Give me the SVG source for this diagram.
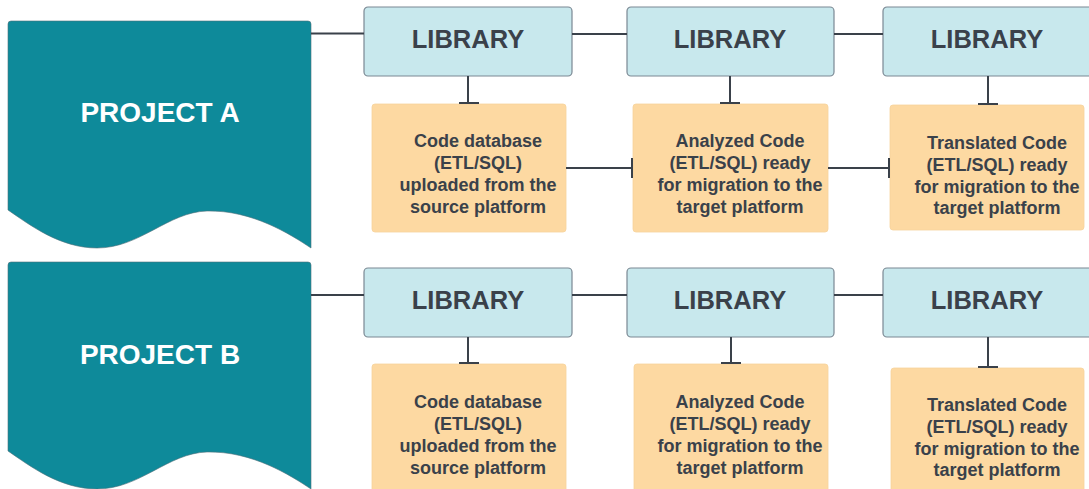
<svg xmlns="http://www.w3.org/2000/svg" width="1089" height="489" viewBox="0 0 1089 489">
<style>
.proj{fill:#0e8a9a;stroke:#4f6e78;stroke-width:0.6}
.ptxt{font-family:"Liberation Sans",Arial,sans-serif;font-weight:bold;font-size:28px;fill:#ffffff;text-anchor:middle}
.lib{fill:#c8e8ed;stroke:#7b8893;stroke-width:1.2}
.ltxt{font-family:"Liberation Sans",Arial,sans-serif;font-weight:bold;font-size:25.5px;fill:#3a414a;text-anchor:middle}
.out{fill:#fdd9a2;stroke:#f6d39c;stroke-width:0.8}
.otxt{font-family:"Liberation Sans",Arial,sans-serif;font-weight:bold;font-size:18px;fill:#3a414a;text-anchor:middle}
.con{stroke:#3a414a;stroke-width:2;fill:none}
</style>
<g id="projectA"><path class="proj" d="M8,24 Q8,21 11,21 L308,21 Q311,21 311,24 L311,248 C290,234 252,210 207,211 C168,212 140,248 97,248 C60,248 30,225 8,210 Z"/><text class="ptxt" x="160" y="122">PROJECT A</text></g>
<g id="projectB"><path class="proj" d="M8,265 Q8,262 11,262 L308,262 Q311,262 311,265 L311,489 C290,475 252,451 207,452 C168,453 140,489 97,489 C60,489 30,466 8,451 Z"/><text class="ptxt" x="160" y="364">PROJECT B</text></g>
<g id="libA1"><rect class="lib" x="364" y="7" width="208" height="69" rx="4"/><text class="ltxt" x="468" y="48">LIBRARY</text></g>
<g id="libA2"><rect class="lib" x="627" y="7" width="207" height="69" rx="4"/><text class="ltxt" x="730" y="48">LIBRARY</text></g>
<g id="libA3"><rect class="lib" x="883" y="7" width="215" height="69" rx="4"/><text class="ltxt" x="987" y="48">LIBRARY</text></g>
<g id="libB1"><rect class="lib" x="364" y="268" width="208" height="69" rx="4"/><text class="ltxt" x="468" y="309">LIBRARY</text></g>
<g id="libB2"><rect class="lib" x="627" y="268" width="207" height="69" rx="4"/><text class="ltxt" x="730" y="309">LIBRARY</text></g>
<g id="libB3"><rect class="lib" x="883" y="268" width="215" height="69" rx="4"/><text class="ltxt" x="987" y="309">LIBRARY</text></g>
<g id="outA1"><rect class="out" x="372" y="104" width="194" height="128" rx="3"/><text class="otxt" x="478"><tspan x="478" y="147">Code database</tspan><tspan x="478" y="169">(ETL/SQL)</tspan><tspan x="478" y="191">uploaded from the</tspan><tspan x="478" y="213">source platform</tspan></text></g>
<g id="outA2"><rect class="out" x="633" y="104" width="195" height="128" rx="3"/><text class="otxt" x="740"><tspan x="740" y="147">Analyzed Code</tspan><tspan x="740" y="169">(ETL/SQL) ready</tspan><tspan x="740" y="191">for migration to the</tspan><tspan x="740" y="213">target platform</tspan></text></g>
<g id="outA3"><rect class="out" x="890" y="105" width="194" height="125" rx="3"/><text class="otxt" x="997"><tspan x="997" y="149">Translated Code</tspan><tspan x="997" y="171">(ETL/SQL) ready</tspan><tspan x="997" y="193">for migration to the</tspan><tspan x="997" y="214">target platform</tspan></text></g>
<g id="outB1"><rect class="out" x="372" y="364" width="194" height="130" rx="3"/><text class="otxt" x="478"><tspan x="478" y="408">Code database</tspan><tspan x="478" y="430">(ETL/SQL)</tspan><tspan x="478" y="452">uploaded from the</tspan><tspan x="478" y="474">source platform</tspan></text></g>
<g id="outB2"><rect class="out" x="634" y="364" width="194" height="130" rx="3"/><text class="otxt" x="740"><tspan x="740" y="408">Analyzed Code</tspan><tspan x="740" y="430">(ETL/SQL) ready</tspan><tspan x="740" y="452">for migration to the</tspan><tspan x="740" y="474">target platform</tspan></text></g>
<g id="outB3"><rect class="out" x="891" y="368" width="193" height="130" rx="3"/><text class="otxt" x="997"><tspan x="997" y="411">Translated Code</tspan><tspan x="997" y="433">(ETL/SQL) ready</tspan><tspan x="997" y="455">for migration to the</tspan><tspan x="997" y="476">target platform</tspan></text></g>
<g id="connectors">
<path class="con" d="M311,33.5 H364 M572,34 H627 M834,34 H883"/>
<path class="con" d="M311,295 H364 M572,295 H627 M834,295 H883"/>
<path class="con" d="M468,76 V103 M459,103 H479 M730,76 V103 M720,103 H740 M988,76 V104 M978,104 H998"/>
<path class="con" d="M468,337 V363 M459,363 H479 M731,337 V363 M721,363 H741 M988,337 V367 M978,367 H998"/>
<path class="con" d="M566,168 H632 M632,158 V178 M828,168 H889 M889,158 V178"/>
</g>
</svg>
